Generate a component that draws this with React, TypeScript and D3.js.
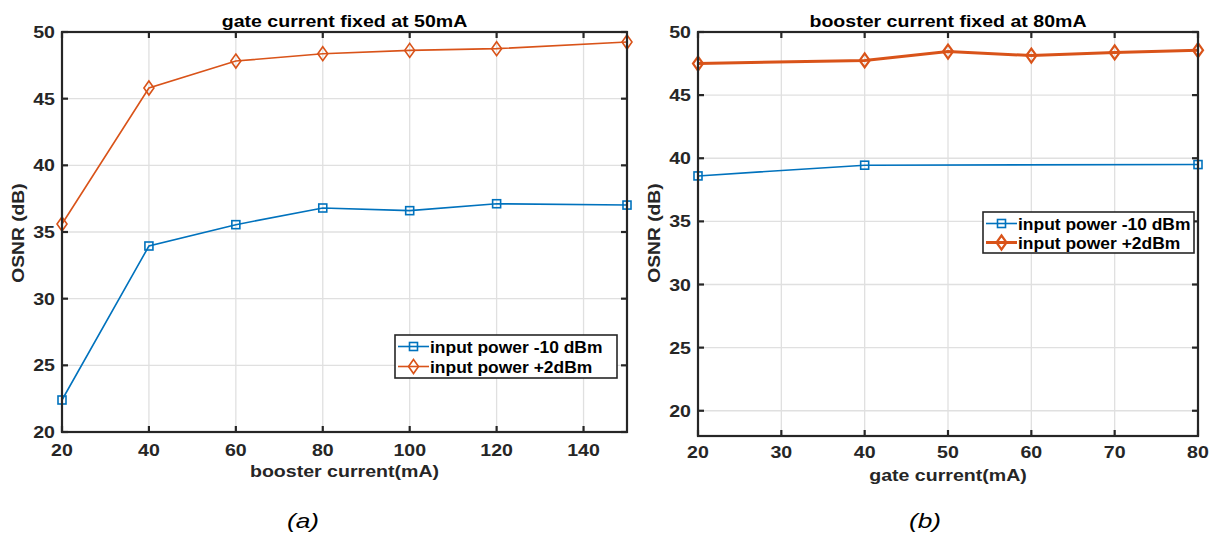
import React from "react";
import * as d3 from "d3";

const boosterCurrent = [20, 40, 60, 80, 100, 120, 150];
const leftLowPower = [22.4, 33.95, 35.55, 36.8, 36.6, 37.12, 37.02];
const leftHighPower = [35.6, 45.8, 47.82, 48.37, 48.62, 48.75, 49.25];

const gateCurrentHigh = [20, 40, 50, 60, 70, 80];
const rightHighPower = [47.5, 47.75, 48.45, 48.13, 48.38, 48.56];
const gateCurrentLow = [20, 40, 80];
const rightLowPower = [38.6, 39.45, 39.5];

const leftXTicks = [20, 40, 60, 80, 100, 120, 140];
const rightXTicks = [20, 30, 40, 50, 60, 70, 80];
const yTicks = [20, 25, 30, 35, 40, 45, 50];

const legendLabels = ["input power -10 dBm", "input power +2dBm"];

const BLUE = "#0072BD";
const ORANGE = "#D95319";
const AX = "#262626";
const FONT = "'Liberation Sans', Arial, Helvetica, sans-serif";

function T(props: {
  x: number; y: number; size: number; sx?: number; anchor?: string; bold?: boolean;
  italic?: boolean; rotate?: number; fill?: string; children: React.ReactNode;
}) {
  const { x, y, size, sx = 1.2, anchor = "start", bold = true, italic = false, rotate = 0, fill = AX, children } = props;
  return (
    <text
      transform={`translate(${x},${y}) rotate(${rotate}) scale(${sx},1)`}
      textAnchor={anchor as any}
      fontSize={size}
      fontWeight={bold ? "bold" : "normal"}
      fontStyle={italic ? "italic" : "normal"}
      fill={fill}
      fontFamily={FONT}
    >
      {children}
    </text>
  );
}

type Series = { xs: number[]; ys: number[]; color: string; marker: "square" | "diamond"; width: number };

function Marker({ kind, x, y, color, sw }: { kind: string; x: number; y: number; color: string; sw: number }) {
  if (kind === "square") {
    const s = 8;
    return <rect x={x - s / 2} y={y - s / 2} width={s} height={s} fill="none" stroke={color} strokeWidth={sw} />;
  }
  const w = 5;
  const h = 7;
  return <path d={`M${x},${y - h} L${x + w},${y} L${x},${y + h} L${x - w},${y} Z`} fill="none" stroke={color} strokeWidth={sw} />;
}

function Panel(props: {
  left: number; right: number; top: number; bottom: number;
  xDomain: [number, number]; yDomain: [number, number];
  xTicks: number[]; series: Series[]; title: string; xLabel: string;
  legend: { x: number; y: number; w: number; h: number; gap: number };
  tag: string; tagX: number; tickOff: number;
}) {
  const { left, right, top, bottom, xDomain, yDomain, xTicks, series, title, xLabel, legend, tag, tagX, tickOff } = props;
  const x = d3.scaleLinear().domain(xDomain).range([left, right]);
  const y = d3.scaleLinear().domain(yDomain).range([bottom, top]);
  const line = d3.line<[number, number]>().x((d) => x(d[0])).y((d) => y(d[1]));
  const tickLen = 6;
  const yT = yTicks.filter((t) => t >= yDomain[0] && t <= yDomain[1]);
  const cx = (left + right) / 2;
  return (
    <g>
      {xTicks.map((t) => (
        <line key={"gx" + t} x1={x(t)} x2={x(t)} y1={top} y2={bottom} stroke="#e0e0e0" strokeWidth={1.3} />
      ))}
      {yT.map((t) => (
        <line key={"gy" + t} x1={left} x2={right} y1={y(t)} y2={y(t)} stroke="#e0e0e0" strokeWidth={1.3} />
      ))}
      {series.map((s, i) => (
        <g key={"s" + i}>
          <path d={line(s.xs.map((v, j) => [v, s.ys[j]] as [number, number])) || ""} fill="none" stroke={s.color} strokeWidth={s.width} />
          {s.xs.map((v, j) => (
            <Marker key={j} kind={s.marker} x={x(v)} y={y(s.ys[j])} color={s.color} sw={s.width > 2 ? 2.2 : 1.6} />
          ))}
        </g>
      ))}
      <rect x={left} y={top} width={right - left} height={bottom - top} fill="none" stroke={AX} strokeWidth={2.2} />
      {xTicks.map((t) => (
        <g key={"tx" + t}>
          <line x1={x(t)} x2={x(t)} y1={bottom} y2={bottom - tickLen} stroke={AX} strokeWidth={2.2} />
          <line x1={x(t)} x2={x(t)} y1={top} y2={top + tickLen} stroke={AX} strokeWidth={2.2} />
          <T x={x(t)} y={bottom + tickOff} size={16.3} anchor="middle">{t}</T>
        </g>
      ))}
      {yT.map((t) => (
        <g key={"ty" + t}>
          <line x1={left} x2={left + tickLen} y1={y(t)} y2={y(t)} stroke={AX} strokeWidth={2.2} />
          <line x1={right} x2={right - tickLen} y1={y(t)} y2={y(t)} stroke={AX} strokeWidth={2.2} />
          <T x={left - 7} y={y(t) + 6} size={16.3} anchor="end">{t}</T>
        </g>
      ))}
      <T x={cx} y={top - 5.5} size={16.3} anchor="middle" fill="#000">{title}</T>
      <T x={cx} y={bottom + 45} size={16.3} anchor="middle">{xLabel}</T>
      <T x={left - 38} y={233} size={16.3} anchor="middle" rotate={-90} sx={1.18}>OSNR (dB)</T>
      <rect x={legend.x} y={legend.y} width={legend.w} height={legend.h} fill="#fff" stroke={AX} strokeWidth={1.6} />
      {series.map((s, i) => {
        const ly = legend.y + 11.5 + i * legend.gap;
        return (
          <g key={"lg" + i}>
            <line x1={legend.x + 3} x2={legend.x + 34} y1={ly} y2={ly} stroke={s.color} strokeWidth={s.width} />
            <Marker kind={s.marker} x={legend.x + 18.5} y={ly} color={s.color} sw={s.width > 2 ? 2.2 : 1.6} />
            <T x={legend.x + 35} y={ly + 6} size={16.3} sx={1.07} fill="#000">{legendLabels[i]}</T>
          </g>
        );
      })}
      <T x={tagX} y={528} size={21} anchor="middle" bold={false} italic={true} sx={1.25} fill="#000">{tag}</T>
    </g>
  );
}

export default function App() {
  return (
    <svg width={1211} height={534} style={{ position: "absolute", left: 0, top: 0, background: "#fff" }}>
      <rect width={1211} height={534} fill="#fff" />
      <Panel
        left={62} right={627} top={32} bottom={432}
        xDomain={[20, 150]} yDomain={[20, 50]} xTicks={leftXTicks}
        series={[
          { xs: boosterCurrent, ys: leftLowPower, color: BLUE, marker: "square", width: 1.6 },
          { xs: boosterCurrent, ys: leftHighPower, color: ORANGE, marker: "diamond", width: 1.6 },
        ]}
        title="gate current fixed at 50mA" xLabel="booster current(mA)"
        legend={{ x: 395, y: 335, w: 222, h: 43, gap: 20 }}
        tag="(a)" tagX={303} tickOff={24}
      />
      <Panel
        left={698} right={1198} top={32} bottom={436}
        xDomain={[20, 80]} yDomain={[18, 50]} xTicks={rightXTicks}
        series={[
          { xs: gateCurrentLow, ys: rightLowPower, color: BLUE, marker: "square", width: 1.6 },
          { xs: gateCurrentHigh, ys: rightHighPower, color: ORANGE, marker: "diamond", width: 3 },
        ]}
        title="booster current fixed at 80mA" xLabel="gate current(mA)"
        legend={{ x: 983, y: 212, w: 211, h: 41, gap: 19 }}
        tag="(b)" tagX={925} tickOff={22}
      />
    </svg>
  );
}
